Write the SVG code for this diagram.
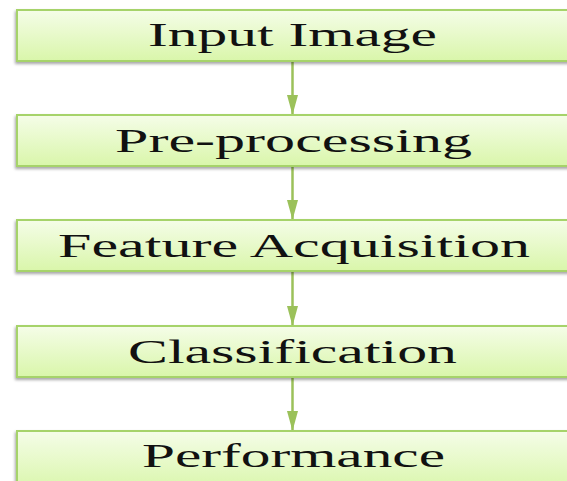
<svg xmlns="http://www.w3.org/2000/svg" width="567" height="481" viewBox="0 0 567 481">
<defs>
<linearGradient id="g" x1="0" y1="0" x2="0" y2="1">
<stop offset="0" stop-color="#f5fde8"/>
<stop offset="1" stop-color="#d9f6aa"/>
</linearGradient>
<filter id="sh" x="-5%" y="-20%" width="110%" height="150%">
<feGaussianBlur in="SourceAlpha" stdDeviation="1.5"/>
<feOffset dx="-1" dy="2" result="b"/>
<feComponentTransfer><feFuncA type="linear" slope="0.35"/></feComponentTransfer>
<feMerge><feMergeNode/><feMergeNode in="SourceGraphic"/></feMerge>
</filter>
<marker id="ah" markerUnits="userSpaceOnUse" markerWidth="20" markerHeight="11" refX="20" refY="5.5" orient="auto">
<path d="M0,0 L20,5.5 L0,11 Z" fill="#9bc15a"/>
</marker>
</defs>
<style>
.box{fill:url(#g);stroke:#a6d36a;stroke-width:2;filter:url(#sh)}
.t{font-family:"Liberation Serif","Times New Roman",serif;font-size:33px;fill:#111}
.c{stroke:#9bc15a;stroke-width:2.5;fill:none;marker-end:url(#ah)}
</style>
<rect width="567" height="481" fill="#ffffff"/>
<g id="connectors">
<line class="c" x1="292.5" y1="61" x2="292.5" y2="115"/>
<line class="c" x1="292.5" y1="166" x2="292.5" y2="220"/>
<line class="c" x1="292.5" y1="271" x2="292.5" y2="326"/>
<line class="c" x1="292.5" y1="377" x2="292.5" y2="431"/>
</g>
<g id="input-image">
<rect class="box" x="17" y="10" width="556" height="51"/>
<text class="t" x="148" y="46" textLength="289" lengthAdjust="spacingAndGlyphs">Input Image</text>
</g>
<g id="pre-processing">
<rect class="box" x="17" y="115" width="556" height="51"/>
<text class="t" x="115" y="151.5" textLength="357" lengthAdjust="spacingAndGlyphs">Pre-processing</text>
</g>
<g id="feature-acquisition">
<rect class="box" x="17" y="220" width="556" height="51"/>
<text class="t" x="58" y="257" textLength="472" lengthAdjust="spacingAndGlyphs">Feature Acquisition</text>
</g>
<g id="classification">
<rect class="box" x="17" y="326" width="556" height="51"/>
<text class="t" x="128" y="362.5" textLength="329" lengthAdjust="spacingAndGlyphs">Classification</text>
</g>
<g id="performance">
<rect class="box" x="17" y="431" width="556" height="60"/>
<text class="t" x="142" y="467" textLength="303" lengthAdjust="spacingAndGlyphs">Performance</text>
</g>
</svg>
